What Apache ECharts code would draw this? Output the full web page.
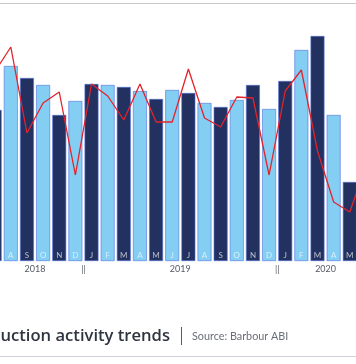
<!DOCTYPE html>
<html><head><meta charset="utf-8">
<script src="https://cdn.jsdelivr.net/npm/echarts@6/dist/echarts.min.js"></script>
<style>html,body{margin:0;padding:0;background:#fff;overflow:hidden;width:356px;height:364px;}
#c{position:absolute;left:-14px;top:0;width:388px;height:364px;}</style>
</head><body><div id="c"></div>
<script>
const categories = ['Jul 2018','Aug 2018','Sep 2018','Oct 2018','Nov 2018','Dec 2018',
  'Jan 2019','Feb 2019','Mar 2019','Apr 2019','May 2019','Jun 2019','Jul 2019','Aug 2019','Sep 2019','Oct 2019','Nov 2019','Dec 2019',
  'Jan 2020','Feb 2020','Mar 2020','Apr 2020','May 2020','Jun 2020'];
const activityValues = [151,195,183,176,146,160,177,176,174,170,162,171,168,158,154,161,176,152,180,211,225,146,79,100];
const trendValues = [189,214,128,158,169,86,177,165,141,177,139,139,192,143,134,164,163,86,170,191,110,59,49,95];
const titleText = 'Construction activity trends';
const sourceText = 'Source: Barbour ABI';

const monthInitials = categories.map(c => c.charAt(0));
const years = [];
categories.forEach((c, i) => {
  const y = c.split(' ')[1];
  let e = years.find(o => o.year === y);
  if (!e) { e = {year: y, first: i, last: i}; years.push(e); }
  e.last = i;
});
const yearLabelMap = {};
years.forEach((e, k) => {
  yearLabelMap[(e.first + e.last + 1) / 2] = e.year;
  if (k > 0) yearLabelMap[e.first] = '||';
});
const yearCustom = Object.keys(yearLabelMap).map(Number).sort((a,b)=>a-b);

const OX = 14; // page offset of chart container
const DARK = '#22315f', LIGHT = '#84cef3';
const chart = echarts.init(document.getElementById('c'));
chart.setOption({
  animation: false,
  grid: {left: 0.6, right: 0, top: 11, bottom: 103},
  xAxis: [{
    type: 'category', data: categories, z: 6,
    axisLine: {show: false}, axisTick: {show: false},
    axisLabel: {inside: true, margin: 2, interval: 0, color: 'rgba(255,255,255,0.68)',
      fontSize: 8, fontFamily: 'Lato', formatter: (v, i) => monthInitials[i]}
  }, {
    type: 'value', min: 0, max: categories.length, position: 'bottom',
    axisLine: {show: false}, axisTick: {show: false}, splitLine: {show: false},
    axisLabel: {customValues: yearCustom, margin: 4, color: '#555a66', fontSize: 9,
      fontFamily: 'Lato', formatter: v => yearLabelMap[v] || ''}
  }],
  yAxis: {type: 'value', min: 0, max: 250, show: false, splitLine: {show: false}},
  series: [{
    type: 'bar', data: activityValues, barCategoryGap: '14%', z: 1,
    itemStyle: {
      color: p => p.dataIndex % 2 === 0 ? DARK : LIGHT,
      borderColor: p => p.dataIndex % 2 === 0 ? '#545a80' : '#c4e8fa',
      borderWidth: 0.6
    }
  }, {
    type: 'line', data: trendValues, showSymbol: false, z: 3,
    lineStyle: {color: '#e3232c', width: 1.3}
  }],
  graphic: [
    {type: 'line', shape: {x1: OX, y1: 3.5, x2: OX + 356, y2: 3.5}, style: {stroke: '#c8c8c8', lineWidth: 1}},
    {type: 'line', shape: {x1: OX, y1: 356.5, x2: OX + 356, y2: 356.5}, style: {stroke: '#cfd0de', lineWidth: 1}},
    {type: 'text', x: OX + 170, y: 336, style: {text: titleText, align: 'right', verticalAlign: 'middle',
      font: '600 16.6px "Open Sans"', fill: '#2e3440'}},
    {type: 'line', shape: {x1: OX + 181.5, y1: 327, x2: OX + 181.5, y2: 345}, style: {stroke: '#555a66', lineWidth: 1}},
    {type: 'text', x: OX + 192, y: 337, style: {text: sourceText, align: 'left', verticalAlign: 'middle',
      font: '10.8px Lato', fill: '#6a6e78'}}
  ]
});
</script></body></html>
